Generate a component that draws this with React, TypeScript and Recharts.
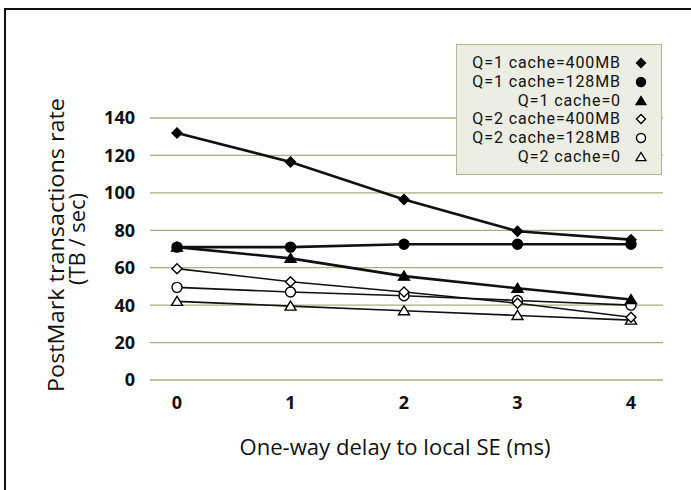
import { CartesianGrid, Line, LineChart, XAxis, YAxis } from 'recharts'

const delays = [0, 1, 2, 3, 4]
const q1c400 = [132, 116.5, 96.5, 79.5, 75]
const q1c128 = [71, 71, 72.5, 72.5, 72.5]
const q1c0 = [71, 65, 55.5, 49, 43]
const q2c400 = [59.5, 52.5, 47, 41, 33.5]
const q2c128 = [49.5, 47, 45, 42.5, 40]
const q2c0 = [42, 39.5, 37, 34.5, 32]
const yTicks = [0, 20, 40, 60, 80, 100, 120, 140]

type Shape = 'diamond' | 'circle' | 'triangle'

const series: { key: string; name: string; values: number[]; shape: Shape; filled: boolean; width: number }[] = [
  { key: 'q1c400', name: 'Q=1 cache=400MB', values: q1c400, shape: 'diamond', filled: true, width: 2.6 },
  { key: 'q1c128', name: 'Q=1 cache=128MB', values: q1c128, shape: 'circle', filled: true, width: 2.6 },
  { key: 'q1c0', name: 'Q=1 cache=0', values: q1c0, shape: 'triangle', filled: true, width: 2.6 },
  { key: 'q2c400', name: 'Q=2 cache=400MB', values: q2c400, shape: 'diamond', filled: false, width: 1.6 },
  { key: 'q2c128', name: 'Q=2 cache=128MB', values: q2c128, shape: 'circle', filled: false, width: 1.6 },
  { key: 'q2c0', name: 'Q=2 cache=0', values: q2c0, shape: 'triangle', filled: false, width: 1.6 }
]

const data = delays.map((d, i) => {
  const row: Record<string, number> = { delay: d }
  series.forEach((s) => (row[s.key] = s.values[i]))
  return row
})

const font = '"Open Sans", sans-serif'
const grid = '#a9ac84'

const Marker = ({ cx, cy, shape, filled, r = 5 }: { cx: number; cy: number; shape: Shape; filled: boolean; r?: number }) => {
  const fill = filled ? '#000' : '#fff'
  if (shape === 'diamond')
    return (
      <polygon
        points={`${cx},${cy - r} ${cx + r},${cy} ${cx},${cy + r} ${cx - r},${cy}`}
        fill={fill}
        stroke="#000"
        strokeWidth={1.4}
      />
    )
  if (shape === 'circle') return <circle cx={cx} cy={cy} r={r} fill={fill} stroke="#000" strokeWidth={1.4} />
  return (
    <polygon
      points={`${cx},${cy - r} ${cx + r + 0.5},${cy + r * 0.8} ${cx - r - 0.5},${cy + r * 0.8}`}
      fill={fill}
      stroke="#000"
      strokeWidth={1.4}
    />
  )
}

const YTitle = () => (
  <g fontFamily={font} fontSize={22} fontWeight={500} fill="#111">
    <text x={64} y={245} transform="rotate(-90 64 245)" textAnchor="middle" textLength={294} lengthAdjust="spacingAndGlyphs">
      PostMark transactions rate
    </text>
    <text x={85} y={239} transform="rotate(-90 85 239)" textAnchor="middle">
      (TB / sec)
    </text>
  </g>
)

export default function App() {
  return (
    <div style={{ position: 'absolute', left: 0, top: 0, width: 691, height: 490, background: '#fff' }}>
      <div
        style={{
          position: 'absolute',
          left: 4,
          top: 8,
          width: 687,
          height: 482,
          borderTop: '2px solid #111',
          borderLeft: '2px solid #111',
          boxSizing: 'border-box'
        }}
      />
      <LineChart width={691} height={490} data={data} margin={{ top: 118, right: 28, left: 0, bottom: 0 }}>
        <CartesianGrid vertical={false} stroke={grid} strokeWidth={1.3} />
        <XAxis
          dataKey="delay"
          type="number"
          domain={[-0.238, 4.282]}
          ticks={delays}
          allowDataOverflow
          axisLine={false}
          tickLine={false}
          tickSize={0}
          tickMargin={16}
          height={110}
          tick={{ fontFamily: font, fontSize: 18, fontWeight: 700, fill: '#111' }}
          label={{
            value: 'One-way delay to local SE (ms)',
            position: 'insideTop',
            offset: 0,
            content: () => (
              <text x={395} y={455} textAnchor="middle" fontFamily={font} fontSize={21} fontWeight={500} fill="#111" textLength={311} lengthAdjust="spacingAndGlyphs">
                One-way delay to local SE (ms)
              </text>
            )
          }}
        />
        <YAxis
          type="number"
          domain={[0, 140]}
          ticks={yTicks}
          width={150}
          axisLine={false}
          tickLine={false}
          tickSize={0}
          tickMargin={15}
          tick={{ fontFamily: font, fontSize: 18, fontWeight: 700, fill: '#111' }}
          label={{ value: '', content: () => <YTitle /> }}
        />
        {[...series].reverse().map((s) => (
          <Line
            key={s.key}
            dataKey={s.key}
            name={s.name}
            stroke="#111"
            strokeWidth={s.width}
            isAnimationActive={false}
            dot={(p: any) => <Marker key={`${s.key}-${p.index}`} cx={p.cx} cy={p.cy} shape={s.shape} filled={s.filled} />}
            activeDot={false}
          />
        ))}
      </LineChart>
      <div
        style={{
          position: 'absolute',
          left: 456,
          top: 44,
          width: 206,
          height: 131,
          background: '#ecede3',
          border: '1.5px solid #b3b690',
          boxSizing: 'border-box',
          paddingTop: 9,
          fontFamily: 'Roboto, sans-serif',
          fontSize: 16,
          letterSpacing: 0.9,
          color: '#111'
        }}
      >
        {series.map((s) => (
          <div key={s.key} style={{ display: 'flex', alignItems: 'center', justifyContent: 'flex-end', height: 18.7, paddingRight: 14 }}>
            <span style={{ lineHeight: '18px' }}>{s.name}</span>
            <svg width={12} height={12} style={{ marginLeft: 14 }}>
              <Marker cx={6} cy={6} shape={s.shape} filled={s.filled} r={4.5} />
            </svg>
          </div>
        ))}
      </div>
    </div>
  )
}
